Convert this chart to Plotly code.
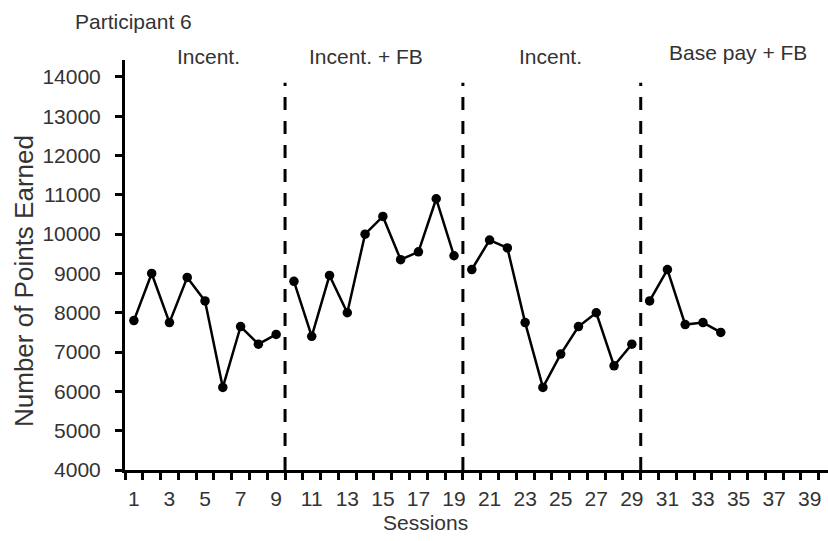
import plotly.graph_objects as go

# Points earned per session, one list per phase
phase_names = ["Incent.", "Incent. + FB", "Incent.", "Base pay + FB"]
phase_sessions = [
    list(range(1, 10)),
    list(range(10, 20)),
    list(range(20, 30)),
    list(range(30, 35)),
]
phase_points = [
    [7800, 9000, 7750, 8900, 8300, 6100, 7650, 7200, 7450],
    [8800, 7400, 8950, 8000, 10000, 10450, 9350, 9550, 10900, 9450],
    [9100, 9850, 9650, 7750, 6100, 6950, 7650, 8000, 6650, 7200],
    [8300, 9100, 7700, 7750, 7500],
]
phase_changes = [9.5, 19.5, 29.5]
y_ticks = list(range(4000, 14001, 1000))
x_tick_labels = list(range(1, 40, 2))

FONT = "Liberation Sans, Arial, Helvetica, sans-serif"
TEXT = "#333333"

fig = go.Figure()

for xs, ys in zip(phase_sessions, phase_points):
    fig.add_trace(go.Scatter(
        x=xs, y=ys, mode="lines+markers",
        line=dict(color="black", width=2.5),
        marker=dict(color="black", size=9.5),
        showlegend=False, hoverinfo="x+y",
    ))

# Dashed phase-change lines
for xc in phase_changes:
    fig.add_shape(type="line", xref="x", yref="y",
                  x0=xc, x1=xc, y0=4000, y1=13850,
                  line=dict(color="black", width=3, dash="13px,11px"))

# Phase labels
phase_label_pos = [(208, 56), (366, 56), (550, 56), (738, 53)]
for name, (px, py) in zip(phase_names, phase_label_pos):
    fig.add_annotation(text=name, xref="paper", yref="paper",
                       x=(px - 125) / 703, y=1 - (py - 60) / 410,
                       showarrow=False, xanchor="center", yanchor="middle",
                       font=dict(family=FONT, size=21, color=TEXT))

fig.add_annotation(text="Participant 6", xref="paper", yref="paper",
                   x=(73 - 125) / 703, y=1 - (22 - 60) / 410,
                   showarrow=False, xanchor="left", yanchor="middle",
                   font=dict(family=FONT, size=21, color=TEXT))

fig.add_annotation(text="Sessions", xref="paper", yref="paper",
                   x=(425 - 125) / 703, y=1 - (522 - 60) / 410,
                   showarrow=False, xanchor="center", yanchor="middle",
                   font=dict(family=FONT, size=21, color=TEXT))

fig.add_annotation(text="Number of Points Earned", xref="paper", yref="paper",
                   x=(24 - 125) / 703, y=1 - (281 - 60) / 410,
                   showarrow=False, xanchor="center", yanchor="middle",
                   textangle=-90,
                   font=dict(family=FONT, size=26, color=TEXT))

fig.update_layout(
    width=828, height=541,
    margin=dict(l=125, r=0, t=60, b=71),
    paper_bgcolor="white", plot_bgcolor="white",
    font=dict(family=FONT, size=20, color=TEXT),
    xaxis=dict(
        range=[0.5, 40.03],
        tickmode="array", tickvals=x_tick_labels,
        ticktext=[str(v) for v in x_tick_labels],
        ticks="outside", ticklen=8, tickcolor="rgba(0,0,0,0)",
        minor=dict(tickmode="array",
                   tickvals=[v + 0.5 for v in range(0, 40)],
                   ticks="outside", ticklen=7, tickwidth=3,
                   tickcolor="black", showgrid=False),
        showline=True, linecolor="black", linewidth=3,
        showgrid=False, zeroline=False,
        tickfont=dict(family=FONT, size=21, color=TEXT),
    ),
    yaxis=dict(
        range=[4000, 14430],
        tickmode="array", tickvals=y_ticks,
        ticktext=[str(v) for v in y_ticks],
        ticks="outside", ticklen=7, tickwidth=3, tickcolor="black",
        ticklabelstandoff=10,
        showline=True, linecolor="black", linewidth=3,
        showgrid=False, zeroline=False,
        tickfont=dict(family=FONT, size=21, color=TEXT),
    ),
)

fig.write_html("out.html")
